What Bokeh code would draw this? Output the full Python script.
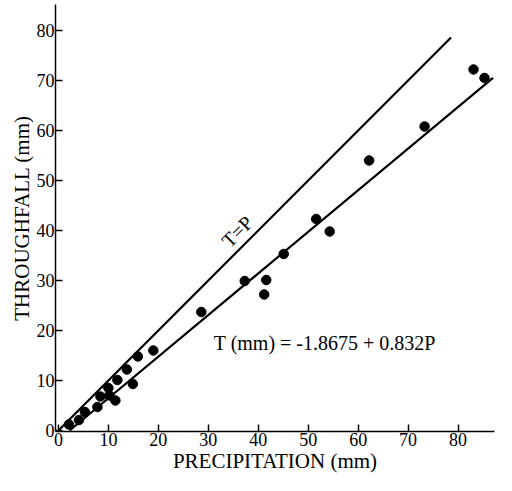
from bokeh.plotting import figure
from bokeh.models import Range1d, FixedTicker, Label
from bokeh.embed import file_html
from bokeh.resources import INLINE

# Observed data (precipitation P vs throughfall T, mm)
precip = [2.1, 4.1, 5.3, 7.8, 8.4, 10.0, 10.2, 11.4, 11.8, 13.7, 15.9, 14.9, 19.0,
          28.6, 37.3, 41.6, 41.2, 45.1, 51.6, 54.3, 62.2, 73.3, 83.1, 85.3]
through = [1.2, 2.1, 3.7, 4.7, 6.8, 8.5, 7.0, 6.0, 10.1, 12.2, 14.8, 9.3, 16.0,
           23.7, 29.9, 30.1, 27.2, 35.3, 42.3, 39.8, 54.0, 60.8, 72.2, 70.5]

# Lines: T = P and fitted regression T = -1.8675 + 0.832 P
identity_p = [0, 78.6]
reg_intercept = -1.8675
reg_slope = 0.832
reg_p = [2.25, 87.0]
reg_t = [reg_intercept + reg_slope * v for v in reg_p]

ticks = [0, 10, 20, 30, 40, 50, 60, 70, 80]

FONT = "Liberation Serif"

p = figure(width=496, height=475,
           x_range=Range1d(-0.59, 87.3), y_range=Range1d(-0.2, 85.2),
           output_backend="svg", toolbar_location=None,
           min_border_left=55, min_border_right=2, min_border_top=4, min_border_bottom=44)
p.grid.visible = False
p.outline_line_color = None
p.background_fill_color = "white"
p.border_fill_color = "white"

for ax in (p.xaxis[0], p.yaxis[0]):
    ax.ticker = FixedTicker(ticks=ticks)
    ax.minor_tick_line_color = None
    ax.major_tick_in = 7
    ax.major_tick_out = 0
    ax.axis_line_width = 1.5
    ax.major_tick_line_width = 1.5
    ax.axis_line_color = "black"
    ax.major_tick_line_color = "black"
    ax.major_label_text_font = FONT
    ax.major_label_text_font_size = "18px"
    ax.major_label_text_color = "black"
    ax.major_label_standoff = 1
    ax.axis_label_text_font = FONT
    ax.axis_label_text_font_size = "21px"
    ax.axis_label_text_font_style = "normal"
    ax.axis_label_text_color = "black"
    ax.axis_label_standoff = 0

p.xaxis.axis_label = "PRECIPITATION (mm)"
p.yaxis.axis_label = "THROUGHFALL (mm)"

p.line(identity_p, identity_p, line_color="black", line_width=2.2)
p.line(reg_p, reg_t, line_color="black", line_width=2.2)
p.scatter(precip, through, size=9.5, color="black")

p.add_layout(Label(x=35.8, y=39.8, text="T=P", angle=45, angle_units="deg",
                   text_align="center", text_baseline="middle",
                   text_font=FONT, text_font_size="20px", text_color="black"))
p.add_layout(Label(x=31.1, y=17.5, text="T (mm) = -1.8675 + 0.832P",
                   text_align="left", text_baseline="alphabetic",
                   text_font=FONT, text_font_size="20px", text_color="black"))

open("out.html", "w").write(file_html(p, INLINE))
